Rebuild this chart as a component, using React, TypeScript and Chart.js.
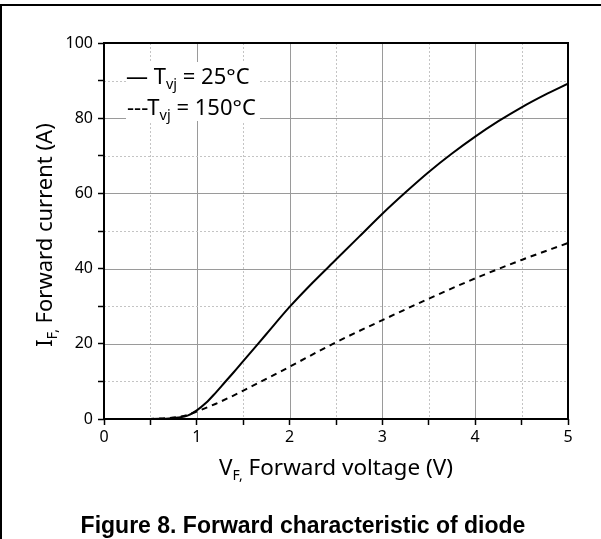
import React, { useEffect, useRef } from 'react';
import { Chart, registerables } from 'chart.js';

Chart.register(...registerables);

// Tvj = 25°C (solid)
const vf25 = [0, 0.3, 0.5, 0.6, 0.7, 0.8, 0.9, 1.0, 1.1, 1.2, 1.3, 1.4, 1.5, 1.75, 2.0, 2.25, 2.5, 2.75, 3.0, 3.25, 3.5, 3.75, 4.0, 4.25, 4.5, 4.75, 5.0];
const if25 = [0, 0, 0.02, 0.06, 0.15, 0.4, 0.9, 2.3, 4.3, 6.9, 9.7, 12.5, 15.4, 22.6, 29.8, 36.3, 42.4, 48.5, 54.6, 60.3, 65.7, 70.6, 75.1, 79.2, 82.9, 86.2, 89.2];

// Tvj = 150°C (dashed)
const vf150 = [0, 0.3, 0.5, 0.6, 0.7, 0.8, 0.9, 1.0, 1.2, 1.4, 1.6, 1.8, 2.0, 2.5, 3.0, 3.5, 4.0, 4.5, 5.0];
const if150 = [0, 0, 0.03, 0.1, 0.25, 0.55, 1.1, 2.0, 4.0, 6.3, 8.8, 11.3, 13.9, 20.4, 26.3, 32.0, 37.4, 42.3, 46.8];

const xLabelTicks = [0, 1, 2, 3, 4, 5];
const yLabelTicks = [0, 20, 40, 60, 80, 100];

const legendLabels = ['25°C', '150°C'];
const xTitle = ['V', 'F,', ' Forward voltage (V)'];
const yTitle = ['I', 'F,', ' Forward current (A)'];
const caption = 'Figure 8. Forward characteristic of diode';

const FONT = '"Noto Sans", "Open Sans", sans-serif';

type Part = { t: string; size: number; dy?: number };

function drawRich(ctx: CanvasRenderingContext2D, parts: Part[], x: number, y: number, align: 'left' | 'center') {
  let total = 0;
  for (const p of parts) {
    ctx.font = `${p.size}px ${FONT}`;
    total += ctx.measureText(p.t).width;
  }
  let cx = align === 'center' ? x - total / 2 : x;
  ctx.textAlign = 'left';
  ctx.textBaseline = 'alphabetic';
  for (const p of parts) {
    ctx.font = `${p.size}px ${FONT}`;
    ctx.fillText(p.t, cx, y + (p.dy || 0));
    cx += ctx.measureText(p.t).width;
  }
}

const decoPlugin = {
  id: 'deco',
  beforeDraw(chart: any) {
    const ctx = chart.ctx as CanvasRenderingContext2D;
    ctx.save();
    ctx.fillStyle = '#fff';
    ctx.fillRect(0, 0, chart.width, chart.height);
    ctx.fillStyle = '#000';
    ctx.fillRect(0, 4, chart.width, 2);
    ctx.fillRect(0, 4, 2, chart.height - 4);
    ctx.restore();
  },
  beforeDatasetsDraw(chart: any) {
    const ctx = chart.ctx as CanvasRenderingContext2D;
    const { left, right, top, bottom } = chart.chartArea;
    const xs = chart.scales.x;
    const ys = chart.scales.y;
    ctx.save();
    ctx.lineWidth = 1;
    for (const t of xs.ticks) {
      const v = t.value;
      const px = Math.round(xs.getPixelForValue(v)) + 0.5;
      const major = Math.abs(v - Math.round(v)) < 1e-6;
      ctx.strokeStyle = major ? '#9a9a9a' : '#c4c4c4';
      ctx.setLineDash(major ? [] : [2, 2]);
      ctx.beginPath();
      ctx.moveTo(px, top);
      ctx.lineTo(px, bottom);
      ctx.stroke();
    }
    for (const t of ys.ticks) {
      const v = t.value;
      const py = Math.round(ys.getPixelForValue(v)) + 0.5;
      const major = v % 20 === 0;
      ctx.strokeStyle = major ? '#9a9a9a' : '#c4c4c4';
      ctx.setLineDash(major ? [] : [2, 2]);
      ctx.beginPath();
      ctx.moveTo(left, py);
      ctx.lineTo(right, py);
      ctx.stroke();
    }
    ctx.restore();
  },
  afterDatasetsDraw(chart: any) {
    const ctx = chart.ctx as CanvasRenderingContext2D;
    const { left, right, top, bottom } = chart.chartArea;
    ctx.save();
    // plot frame
    ctx.strokeStyle = '#000';
    ctx.lineWidth = 2;
    ctx.setLineDash([]);
    ctx.strokeRect(left, top, right - left, bottom - top);

    // legend
    ctx.fillStyle = '#fff';
    ctx.fillRect(left + 22, top + 19, 134, 59);
    ctx.fillStyle = '#000';
    drawRich(ctx, [
      { t: '— T', size: 22 },
      { t: 'vj', size: 14.5, dy: 5 },
      { t: ' = ' + legendLabels[0], size: 22 },
    ], left + 22, top + 41, 'left');
    drawRich(ctx, [
      { t: '---T', size: 22 },
      { t: 'vj', size: 14.5, dy: 5 },
      { t: ' = ' + legendLabels[1], size: 22 },
    ], left + 23, top + 72, 'left');

    // x title
    drawRich(ctx, [
      { t: xTitle[0], size: 22.5 },
      { t: xTitle[1], size: 14, dy: 5 },
      { t: xTitle[2], size: 22.5 },
    ], (left + right) / 2, bottom + 56, 'center');

    // y title
    ctx.save();
    ctx.translate(44, (top + bottom) / 2 + 4);
    ctx.rotate(-Math.PI / 2);
    drawRich(ctx, [
      { t: yTitle[0], size: 22 },
      { t: yTitle[1], size: 14, dy: 5 },
      { t: yTitle[2], size: 22 },
    ], 0, 8, 'center');
    ctx.restore();

    // caption
    ctx.font = 'bold 23px "Liberation Sans", Arial, sans-serif';
    ctx.textAlign = 'center';
    ctx.textBaseline = 'alphabetic';
    ctx.fillText(caption, 303, 533);
    ctx.restore();
  },
};

export default function App() {
  const ref = useRef<HTMLCanvasElement | null>(null);
  useEffect(() => {
    document.body.style.margin = '0';
    if (!ref.current) return;
    const chart = new Chart(ref.current, {
      type: 'scatter',
      data: {
        datasets: [
          {
            label: 'Tvj = 25°C',
            data: vf25.map((v, i) => ({ x: v, y: if25[i] })),
            showLine: true,
            borderColor: '#000',
            borderWidth: 2,
            pointRadius: 0,
            cubicInterpolationMode: 'monotone',
            fill: false,
          },
          {
            label: 'Tvj = 150°C',
            data: vf150.map((v, i) => ({ x: v, y: if150[i] })),
            showLine: true,
            borderColor: '#000',
            borderWidth: 2,
            borderDash: [6, 5],
            pointRadius: 0,
            cubicInterpolationMode: 'monotone',
            fill: false,
          },
        ],
      },
      options: {
        responsive: false,
        animation: false,
        layout: { padding: { left: 0, right: 33, top: 43, bottom: 0 } },
        plugins: { legend: { display: false }, tooltip: { enabled: false } },
        scales: {
          x: {
            type: 'linear',
            min: 0,
            max: 5,
            ticks: {
              stepSize: 0.5,
              autoSkip: false,
              maxRotation: 0,
              padding: 3,
              color: '#000',
              font: { family: FONT, size: 16 },
              callback: (v: any) => (xLabelTicks.includes(Number(v)) ? String(v) : ''),
            },
            grid: { drawOnChartArea: false, tickLength: 6, tickColor: '#000', tickWidth: 1.5 },
            border: { display: false },
            afterFit: (s: any) => { s.height = 120; },
          },
          y: {
            type: 'linear',
            min: 0,
            max: 100,
            ticks: {
              stepSize: 10,
              autoSkip: false,
              padding: 5,
              color: '#000',
              font: { family: FONT, size: 16 },
              callback: (v: any) => (yLabelTicks.includes(Number(v)) ? String(v) : ''),
            },
            grid: { drawOnChartArea: false, tickLength: 6, tickColor: '#000', tickWidth: 1.5 },
            border: { display: false },
            afterFit: (s: any) => { s.width = 104; },
          },
        },
      } as any,
      plugins: [decoPlugin],
    });
    return () => chart.destroy();
  }, []);
  return (
    <div style={{ position: 'absolute', left: 0, top: 0, width: 601, height: 539 }}>
      <canvas ref={ref} width={601} height={539} style={{ display: 'block' }} />
    </div>
  );
}
